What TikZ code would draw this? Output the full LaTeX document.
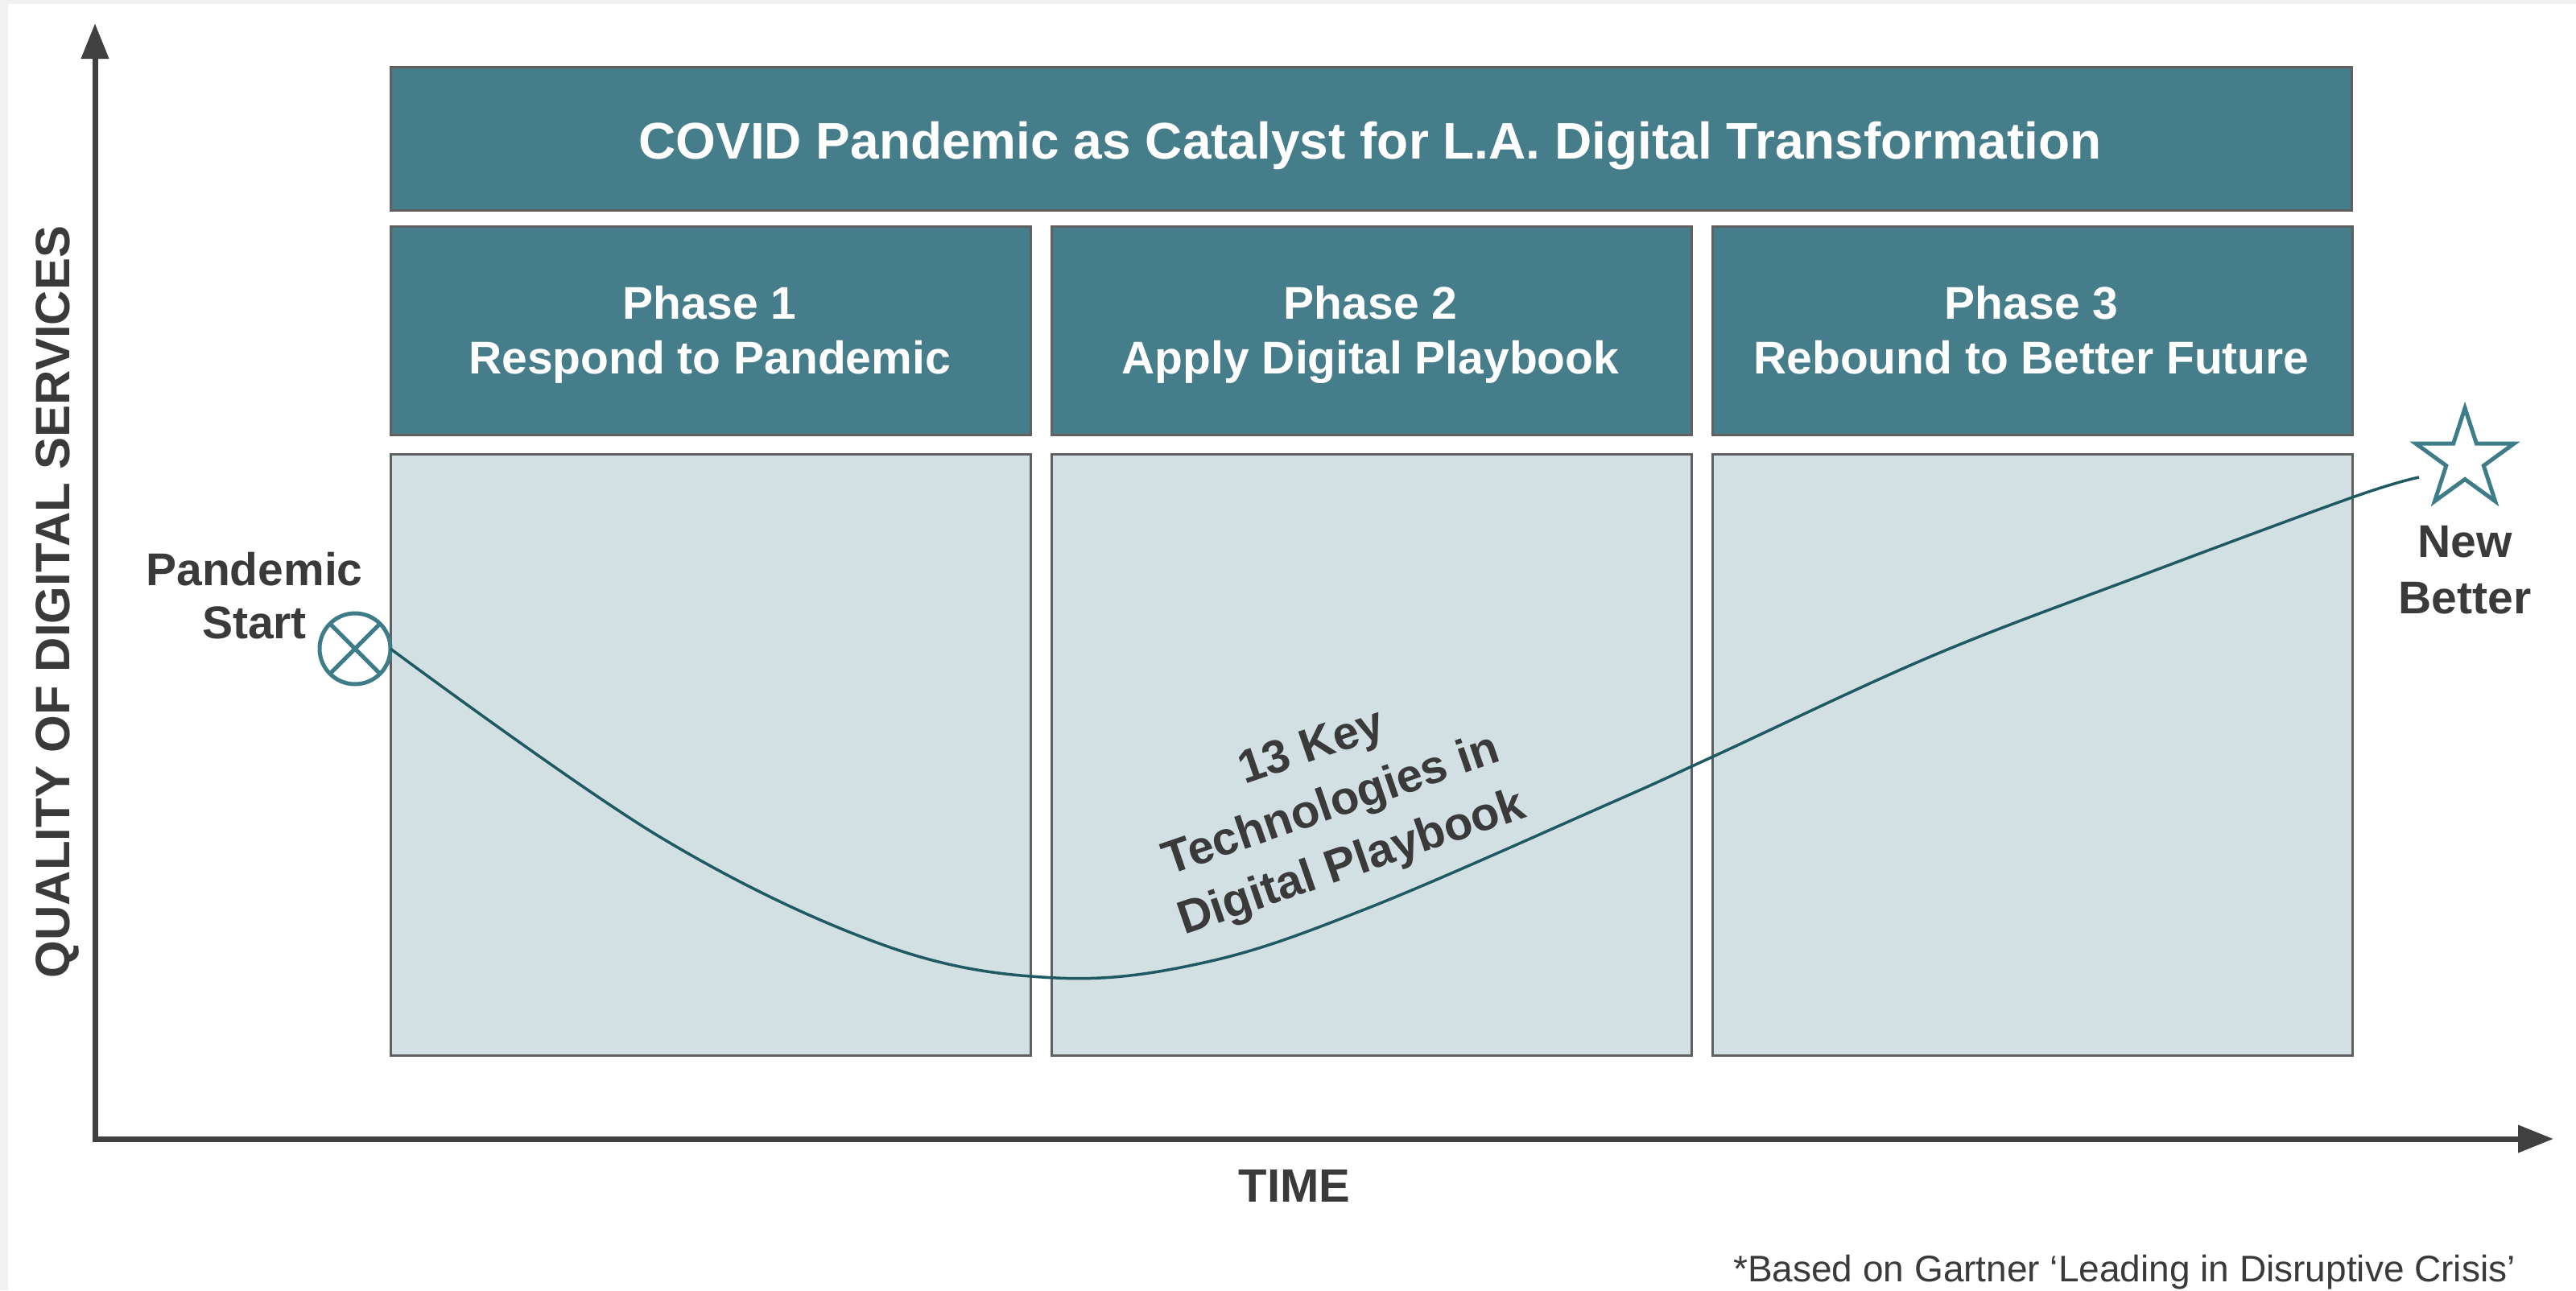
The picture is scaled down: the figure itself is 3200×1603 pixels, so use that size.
\documentclass[tikz,border=0pt]{standalone}
\usepackage{fontspec}
\setmainfont{Liberation Sans}
\usetikzlibrary{arrows.meta,shapes.geometric}
\definecolor{tealbox}{HTML}{467D8A}
\definecolor{lightfill}{HTML}{D2DFE3}
\definecolor{boxline}{HTML}{606060}
\definecolor{axiscol}{HTML}{404040}
\definecolor{curvecol}{HTML}{1F5A62}
\definecolor{markcol}{HTML}{3D7C88}
\definecolor{txt}{HTML}{3A3A3A}
\definecolor{framecol}{HTML}{F0F1F3}
\begin{document}
\begin{tikzpicture}[x=1pt,y=-1pt,
  darkbox/.style={draw=boxline, line width=3pt, fill=tealbox, anchor=north west, inner sep=0pt},
  lightbox/.style={draw=boxline, line width=3pt, fill=lightfill, anchor=north west, inner sep=0pt},
  phasetxt/.style={text=white, font=\bfseries\fontsize{57}{68}\selectfont, align=center, inner sep=0pt, anchor=north},
  darktxt/.style={text=txt, font=\bfseries\fontsize{57}{66}\selectfont, align=center, inner sep=0pt},
  marker/.style={draw=markcol, line width=5pt, inner sep=0pt, outer sep=0pt},
  axisline/.style={draw=axiscol, line width=7pt, {Triangle[length=44pt,width=33pt]}-{Triangle[length=44pt,width=33pt]}}
]
\useasboundingbox (0,0) rectangle (3200,1603);
\fill[framecol] (0,0) rectangle (3200,1603);
\fill[white] (10,5) rectangle (3200,1603);

% axes
\coordinate (ytip) at (118,29);
\coordinate (origin) at (118,1415);
\coordinate (xtip) at (3172,1415);
\draw[axisline] (ytip) -- (origin) -- (xtip);

% title
\node[darkbox, minimum width=2436pt, minimum height=178pt] (title) at (484,82) {};
\node[text=white, font=\bfseries\fontsize{64}{74}\selectfont, inner sep=0pt, anchor=base] (titletext) at (1702,197) {COVID Pandemic as Catalyst for L.A. Digital Transformation};

% phase boxes
\node[darkbox, minimum width=795pt, minimum height=259pt] (p1) at (484,280) {};
\node[darkbox, minimum width=795pt, minimum height=259pt] (p2) at (1305,280) {};
\node[darkbox, minimum width=795pt, minimum height=259pt] (p3) at (2126,280) {};
\node[lightbox, minimum width=795pt, minimum height=747pt] (l1) at (484,563) {};
\node[lightbox, minimum width=795pt, minimum height=747pt] (l2) at (1305,563) {};
\node[lightbox, minimum width=795pt, minimum height=747pt] (l3) at (2126,563) {};

\node[phasetxt] (t1) at (881.5,355) {Phase 1\\Respond to Pandemic};
\node[phasetxt] (t2) at (1702.5,355) {Phase 2\\Apply Digital Playbook};
\node[phasetxt] (t3) at (2523.5,355) {Phase 3\\Rebound to Better Future};

% y label
\node[text=txt, font=\bfseries\fontsize{60}{70}\selectfont, inner sep=0pt, rotate=90, anchor=base] (ylab) at (86,748) {QUALITY OF DIGITAL SERVICES};

% x label
\node[text=txt, font=\bfseries\fontsize{58}{68}\selectfont, inner sep=0pt, anchor=base] (xlab) at (1608,1493) {TIME};

% start marker
\node[marker, circle, minimum size=88pt] (pstart) at (441,806) {};
\draw[markcol, line width=5pt] (pstart.north west) -- (pstart.south east)
  (pstart.north east) -- (pstart.south west);
\node[darktxt, anchor=north] (pstartlbl) at (316,686) {Pandemic\\Start};

% star marker
\node[marker, star, star points=5, star point ratio=2.618, minimum size=128pt, line join=miter] (nbetter) at (3062,571) {};
\node[darktxt, anchor=north, font=\bfseries\fontsize{57}{70}\selectfont] (nbetterlbl) at (3062,653) {New\\Better};

% curve
\coordinate (cend) at (3005,593);
\draw[curvecol, line width=3.5pt] plot[smooth, tension=0.6] coordinates {(pstart.east) (820,1040) (1100,1175) (1312,1215) (1500,1195) (1700,1128) (2000,998) (2128,940) (2400,815) (2660,715) (2922,618) (cend)};

% rotated label
\node[text=txt, font=\bfseries\fontsize{58}{76}\selectfont, align=center, inner sep=0pt, rotate=19] (playbook) at (1655,1003) {13 Key\\Technologies in\\Digital Playbook};

% footnote
\node[text=txt, font=\fontsize{46}{54}\selectfont, inner sep=0pt, anchor=base west] (foot) at (2153,1592) {*Based on Gartner ‘Leading in Disruptive Crisis’};
\end{tikzpicture}
\end{document}
